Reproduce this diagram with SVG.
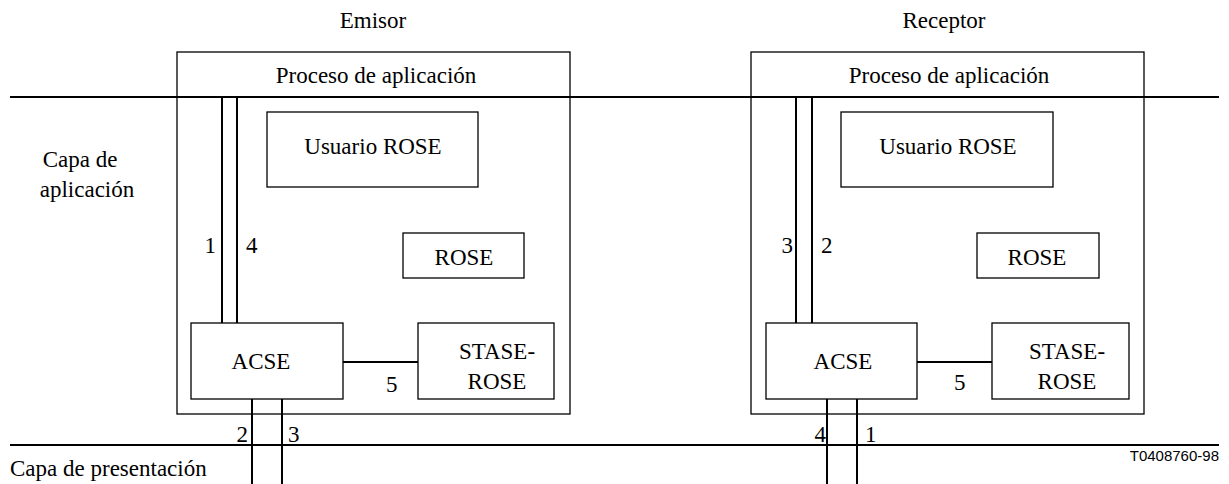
<svg xmlns="http://www.w3.org/2000/svg" width="1229" height="484" viewBox="0 0 1229 484">
<style>
.box{fill:none;stroke:#000;stroke-width:1.3}
.ln{fill:none;stroke:#000;stroke-width:2}
</style>
<rect width="1229" height="484" fill="#fff"/>
<g id="layers">
<line class="ln" x1="10" y1="97" x2="1219" y2="97"/>
<line class="ln" x1="10" y1="445" x2="1219" y2="445"/>
<text font-family="Times New Roman" font-size="23" text-anchor="middle" x="80" y="167">Capa de</text>
<text font-family="Times New Roman" font-size="23" text-anchor="middle" x="87" y="197">aplicación</text>
<text font-family="Times New Roman" font-size="23" x="10" y="476">Capa de presentación</text>
<text font-family="Liberation Sans" font-size="15" text-anchor="end" x="1219" y="461">T0408760-98</text>
</g>
<g id="emisor">
<text font-family="Times New Roman" font-size="23" text-anchor="middle" x="373" y="28">Emisor</text>
<rect class="box" x="177" y="52" width="393" height="362"/>
<text font-family="Times New Roman" font-size="23" text-anchor="middle" x="376" y="83">Proceso de aplicación</text>
</g>
<g id="emisor-usuario"><rect class="box" x="267" y="112" width="211" height="75"/><text font-family="Times New Roman" font-size="23" text-anchor="middle" x="373" y="154">Usuario ROSE</text></g>
<g id="emisor-rose"><rect class="box" x="403" y="233" width="121" height="45"/><text font-family="Times New Roman" font-size="23" text-anchor="middle" x="464" y="265">ROSE</text></g>
<g id="emisor-acse"><rect class="box" x="191" y="323" width="152" height="76"/><text font-family="Times New Roman" font-size="23" text-anchor="middle" x="261" y="369">ACSE</text></g>
<g id="emisor-stase"><rect class="box" x="418" y="323" width="136" height="76"/><text font-family="Times New Roman" font-size="23" text-anchor="middle" x="497" y="359">STASE-</text><text font-family="Times New Roman" font-size="23" text-anchor="middle" x="497" y="389">ROSE</text></g>
<g id="receptor">
<text font-family="Times New Roman" font-size="23" text-anchor="middle" x="944" y="28">Receptor</text>
<rect class="box" x="751" y="52" width="393" height="362"/>
<text font-family="Times New Roman" font-size="23" text-anchor="middle" x="949" y="83">Proceso de aplicación</text>
</g>
<g id="receptor-usuario"><rect class="box" x="841" y="112" width="212" height="75"/><text font-family="Times New Roman" font-size="23" text-anchor="middle" x="948" y="154">Usuario ROSE</text></g>
<g id="receptor-rose"><rect class="box" x="977" y="233" width="122" height="45"/><text font-family="Times New Roman" font-size="23" text-anchor="middle" x="1037" y="265">ROSE</text></g>
<g id="receptor-acse"><rect class="box" x="766" y="323" width="151" height="76"/><text font-family="Times New Roman" font-size="23" text-anchor="middle" x="843" y="369">ACSE</text></g>
<g id="receptor-stase"><rect class="box" x="992" y="323" width="137" height="76"/><text font-family="Times New Roman" font-size="23" text-anchor="middle" x="1067" y="359">STASE-</text><text font-family="Times New Roman" font-size="23" text-anchor="middle" x="1067" y="389">ROSE</text></g>
<g id="connectors">
<line class="ln" x1="222" y1="97" x2="222" y2="323"/>
<line class="ln" x1="237" y1="97" x2="237" y2="323"/>
<line class="ln" x1="252" y1="399" x2="252" y2="484"/>
<line class="ln" x1="282" y1="399" x2="282" y2="484"/>
<line class="ln" x1="343" y1="362" x2="418" y2="362"/>
<line class="ln" x1="796" y1="97" x2="796" y2="323"/>
<line class="ln" x1="812" y1="97" x2="812" y2="323"/>
<line class="ln" x1="827" y1="399" x2="827" y2="484"/>
<line class="ln" x1="857" y1="399" x2="857" y2="484"/>
<line class="ln" x1="917" y1="362" x2="992" y2="362"/>
<text font-family="Times New Roman" font-size="23" text-anchor="end" x="216" y="253">1</text>
<text font-family="Times New Roman" font-size="23" x="246" y="253">4</text>
<text font-family="Times New Roman" font-size="23" text-anchor="end" x="248" y="442">2</text>
<text font-family="Times New Roman" font-size="23" x="288" y="442">3</text>
<text font-family="Times New Roman" font-size="23" x="386" y="392">5</text>
<text font-family="Times New Roman" font-size="23" text-anchor="end" x="793" y="253">3</text>
<text font-family="Times New Roman" font-size="23" x="821" y="253">2</text>
<text font-family="Times New Roman" font-size="23" text-anchor="end" x="826" y="442">4</text>
<text font-family="Times New Roman" font-size="23" x="865" y="442">1</text>
<text font-family="Times New Roman" font-size="23" x="954" y="390">5</text>
</g>
</svg>
